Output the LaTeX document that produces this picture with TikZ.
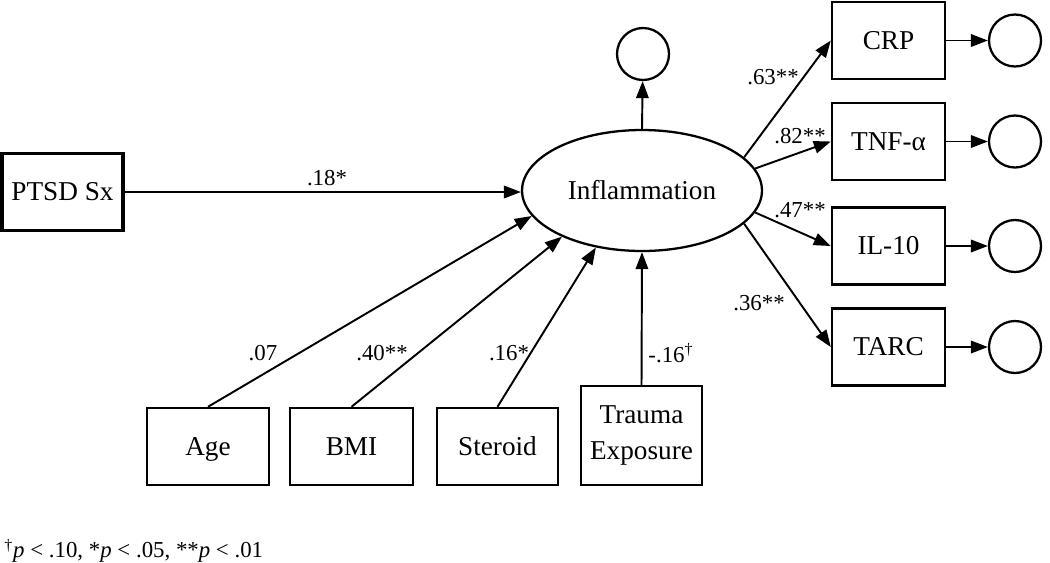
\documentclass[tikz,border=0pt]{standalone}
\usepackage{fontspec}
\setmainfont{Liberation Serif}
\usetikzlibrary{shapes.geometric,arrows.meta}
\tikzset{
obsbox/.style={
		draw,
		rectangle,
		line width=1.4pt,
		minimum width=2.26cm,
		minimum height=1.54cm,
		inner sep=2pt,
		text height=10.5pt,
		text depth=0.3pt,
		font=\fontsize{15.5}{19}\selectfont
	},
latent/.style={
		draw,
		ellipse,
		line width=1.3pt,
		minimum width=4.8cm,
		minimum height=2.42cm,
		inner sep=0pt,
		font=\fontsize{15.5}{19}\selectfont
	},
resid/.style={
		draw,
		circle,
		line width=1.3pt,
		minimum size=1.04cm,
		inner sep=0pt
	},
regline/.style={
		-{Triangle[length=3.4mm,width=2.5mm]},
		line width=1.1pt
	},
coef/.style={
		inner sep=0pt,
		font=\fontsize{13}{15}\selectfont
	}
}

\begin{document}
\begin{tikzpicture}[x=0.02cm,y=-0.02cm]
			\useasboundingbox (0,0) rectangle (1050,562);
			% latent factor and its disturbance
			\node[latent] (infl) at (642,190.5) {Inflammation};
			\node[resid] (einfl) at (643,54) {};
			% predictors
			\node[obsbox, minimum width=2.42cm, line width=1.8pt] (ptsd) at (62.5,192) {PTSD Sx};
			\node[obsbox, minimum width=2.44cm] (age) at (208,446.5) {Age};
			\node[obsbox, minimum width=2.46cm] (bmi) at (351.5,446.5) {BMI};
			\node[obsbox, minimum width=2.42cm] (steroid) at (497.5,446.5) {Steroid};
			\node[obsbox, minimum width=2.42cm, minimum height=1.98cm, text height=, text depth=, align=center,
				font=\fontsize{15.5}{21}\selectfont] (trauma) at (641.5,435.5) {Trauma\\Exposure};
			% indicators
			\node[obsbox] (crp) at (888.5,40.5) {CRP};
			\node[obsbox] (tnf) at (888.5,141.5) {TNF-α};
			\node[obsbox] (il) at (888.5,246) {IL-10};
			\node[obsbox] (tarc) at (888.5,347) {TARC};
			\node[resid] (ecrp) at (1015,40.5) {};
			\node[resid] (etnf) at (1015,141.5) {};
			\node[resid] (eil) at (1015,246) {};
			\node[resid] (etarc) at (1015,347) {};

			\draw[regline] (infl.north) -- (einfl);
			\draw[regline] (ptsd.east) -- (infl.west |- ptsd.east);
			\draw[regline] (age.north) -- (infl.193);
			\draw[regline] (bmi.north) -- (infl.210);
			\draw[regline] (steroid.north) -- (infl.231);
			\draw[regline] (trauma.north) -- (infl.south);
			\draw[regline] (infl.18) -- (crp.west);
			\draw[regline] (infl.11) -- (tnf.west);
			\draw[regline] (infl.-11) -- (il.west);
			\draw[regline] (infl.-18) -- (tarc.west);
			\draw[regline] (crp) -- (ecrp);
			\draw[regline] (tnf) -- (etnf);
			\draw[regline] (il) -- (eil);
			\draw[regline] (tarc) -- (etarc);

			% path coefficients
			\node[coef] (cptsd) at (327,178) {.18*};
			\node[coef] (cage) at (263,353) {.07};
			\node[coef] (cbmi) at (382,353) {.40**};
			\node[coef] (cster) at (509,353) {.16*};
			\node[coef] (ctrauma) at (671,353) {-.16\textsuperscript{\dag}};
			\node[coef] (ccrp) at (773,77) {.63**};
			\node[coef] (ctnf) at (800,136) {.82**};
			\node[coef] (cil) at (800,210) {.47**};
			\node[coef] (ctarc) at (759,303) {.36**};

			\node[coef, anchor=west] (note) at (4,551) {\textsuperscript{\dag}\textit{p} < .10, *\textit{p} < .05, **\textit{p} < .01};
			\end{tikzpicture}
\end{document}
